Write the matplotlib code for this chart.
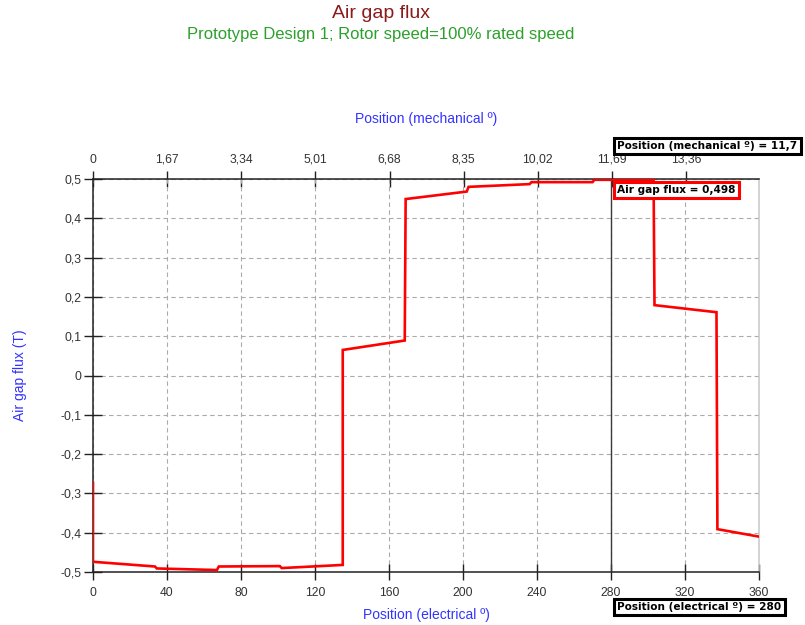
import matplotlib
matplotlib.use("Agg")
import matplotlib.pyplot as plt
from matplotlib.ticker import FuncFormatter

# Air gap flux over one electrical period (duplicate x = vertical jumps)
pos_elec = [0, 0, 33.5, 34.5, 67, 68, 101, 102, 135, 135, 168.5, 169,
            202, 203, 236, 237, 270, 271, 303, 303.5, 337, 337.5, 360]
flux = [-0.273, -0.474, -0.486, -0.491, -0.495, -0.486, -0.485, -0.490,
        -0.482, 0.065, 0.089, 0.449, 0.468, 0.480, 0.487, 0.492, 0.492,
        0.498, 0.498, 0.179, 0.161, -0.391, -0.410]

elec_ticks = [0, 40, 80, 120, 160, 200, 240, 280, 320, 360]
mech_ticks = [0, 1.67, 3.34, 5.01, 6.68, 8.35, 10.02, 11.69, 13.36]
flux_ticks = [-0.5, -0.4, -0.3, -0.2, -0.1, 0, 0.1, 0.2, 0.3, 0.4, 0.5]
POLE_PAIRS = 24

cursor_elec = 280
cursor_mech = 11.7
cursor_flux = 0.498

plt.rcParams["font.family"] = ["Liberation Sans", "DejaVu Sans"]


def comma(v, _pos=None):
    s = f"{v:g}"
    return s.replace(".", ",")


fig = plt.figure(figsize=(8.05, 6.25), dpi=100)
ax = fig.add_axes([0.1155, 0.0848, 0.8274, 0.6288])

ax.plot(pos_elec, flux, color="#ff0000", lw=1.9, zorder=4, solid_joinstyle="miter")
ax.axvline(cursor_elec, color="#3a3a3a", lw=1.0, zorder=3)

ax.set_xlim(0, 360)
ax.set_ylim(-0.5, 0.5)
ax.set_xticks(elec_ticks)
ax.set_yticks(flux_ticks)
ax.yaxis.set_major_formatter(FuncFormatter(comma))
ax.grid(True, color="#ababab", ls=(0, (4, 3)), lw=0.8)

for side in ("left", "bottom", "top"):
    ax.spines[side].set_color("#222222")
    ax.spines[side].set_linewidth(1.1)
ax.spines["right"].set_color("#c8c8c8")
ax.spines["right"].set_linewidth(1.1)

ax.tick_params(axis="y", direction="inout", length=13, width=1.0,
               colors="#222222", labelsize=8.7, labelcolor="#333333", pad=2)
ax.tick_params(axis="x", direction="inout", length=11, width=1.0,
               colors="#222222", labelsize=8.7, labelcolor="#333333", pad=5)

# mechanical degrees on top
sec = ax.secondary_xaxis("top", functions=(lambda x: x / POLE_PAIRS,
                                           lambda m: m * POLE_PAIRS))
sec.set_xticks(mech_ticks)
sec.xaxis.set_major_formatter(FuncFormatter(comma))
sec.tick_params(direction="inout", length=11, width=1.0, colors="#222222",
                labelsize=8.7, labelcolor="#333333", pad=4)
sec.spines["top"].set_visible(False)

blue = "#3333ff"
ax.set_xlabel("Position (electrical º)", color=blue, fontsize=10, labelpad=7)
ax.set_ylabel("Air gap flux (T)", color=blue, fontsize=10, labelpad=24)
sec.set_xlabel("Position (mechanical º)", color=blue, fontsize=10, labelpad=22)

fig.text(0.473, 0.972, "Air gap flux", ha="center", va="baseline",
         color="#8b1a1a", fontsize=14)
fig.text(0.473, 0.938, "Prototype Design 1; Rotor speed=100% rated speed",
         ha="center", va="baseline", color="#2ca02c", fontsize=12)

# cursor read-outs
box_kw = dict(fontsize=7.6, fontweight="bold", family=["DejaVu Sans"],
              ha="left", va="center", zorder=10)
ax.annotate(f"Air gap flux = {comma(cursor_flux)}",
            xy=(cursor_elec, 1), xycoords=("data", "axes fraction"),
            xytext=(4.5, -8), textcoords="offset points", annotation_clip=False,
            **box_kw,
            bbox=dict(boxstyle="square,pad=0.3", fc="white", ec="#ff0000", lw=2.2))
ax.annotate(f"Position (mechanical º) = {comma(cursor_mech)}",
            xy=(cursor_elec, 1), xycoords=("data", "axes fraction"),
            xytext=(4.5, 24), textcoords="offset points", annotation_clip=False,
            **box_kw,
            bbox=dict(boxstyle="square,pad=0.3", fc="white", ec="black", lw=2.2))
ax.annotate(f"Position (electrical º) = {cursor_elec}",
            xy=(cursor_elec, 0), xycoords=("data", "axes fraction"),
            xytext=(4.5, -25), textcoords="offset points", annotation_clip=False,
            **box_kw,
            bbox=dict(boxstyle="square,pad=0.3", fc="white", ec="black", lw=2.2))

fig.savefig("out.png", dpi=100)
